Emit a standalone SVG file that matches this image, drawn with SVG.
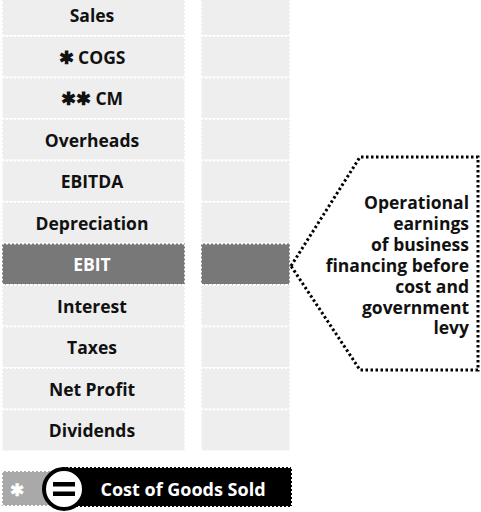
<svg xmlns="http://www.w3.org/2000/svg" width="481" height="512" viewBox="0 0 481 512">
  <style>
    .cell { fill: #eeeeee; stroke: #ffffff; stroke-width: 2; stroke-dasharray: 2 2; }
    .cell.hi { fill: #787878; }
    .lbl { font-family: "Open Sans", "Liberation Sans", sans-serif; font-weight: 700; font-size: 17.5px; fill: #111111; text-anchor: middle; }
    .lbl.hi { fill: #ffffff; }
    .note { font-family: "Open Sans", "Liberation Sans", sans-serif; font-weight: 700; font-size: 17.5px; fill: #111111; text-anchor: end; }
    .callout { fill: #ffffff; stroke: #000000; stroke-width: 3; stroke-dasharray: 2.5 2.5; }
  </style>

  <rect width="481" height="512" fill="#ffffff"/>

  <!-- income statement rows: label column + value column -->
  <g id="row-sales">
    <rect class="cell" x="2" y="-2" width="183" height="38"/>
    <rect class="cell" x="201" y="-2" width="89" height="38"/>
    <text class="lbl" x="92" y="22">Sales</text>
  </g>
  <g id="row-cogs">
    <rect class="cell" x="2" y="36" width="183" height="41.5"/>
    <rect class="cell" x="201" y="36" width="89" height="41.5"/>
    <text class="lbl" x="92" y="63.5">✱ COGS</text>
  </g>
  <g id="row-cm">
    <rect class="cell" x="2" y="77.5" width="183" height="41.5"/>
    <rect class="cell" x="201" y="77.5" width="89" height="41.5"/>
    <text class="lbl" x="92" y="105">✱✱ CM</text>
  </g>
  <g id="row-overheads">
    <rect class="cell" x="2" y="119" width="183" height="41.5"/>
    <rect class="cell" x="201" y="119" width="89" height="41.5"/>
    <text class="lbl" x="92" y="146.5">Overheads</text>
  </g>
  <g id="row-ebitda">
    <rect class="cell" x="2" y="160.5" width="183" height="41.5"/>
    <rect class="cell" x="201" y="160.5" width="89" height="41.5"/>
    <text class="lbl" x="92" y="188">EBITDA</text>
  </g>
  <g id="row-depreciation">
    <rect class="cell" x="2" y="202" width="183" height="41.5"/>
    <rect class="cell" x="201" y="202" width="89" height="41.5"/>
    <text class="lbl" x="92" y="229.5">Depreciation</text>
  </g>
  <g id="row-ebit">
    <rect class="cell hi" x="2" y="243.5" width="183" height="41.5"/>
    <rect class="cell hi" x="201" y="243.5" width="89" height="41.5"/>
    <text class="lbl hi" x="92" y="271">EBIT</text>
  </g>
  <g id="row-interest">
    <rect class="cell" x="2" y="285" width="183" height="41.5"/>
    <rect class="cell" x="201" y="285" width="89" height="41.5"/>
    <text class="lbl" x="92" y="312.5">Interest</text>
  </g>
  <g id="row-taxes">
    <rect class="cell" x="2" y="326.5" width="183" height="41.5"/>
    <rect class="cell" x="201" y="326.5" width="89" height="41.5"/>
    <text class="lbl" x="92" y="354">Taxes</text>
  </g>
  <g id="row-net-profit">
    <rect class="cell" x="2" y="368" width="183" height="41.5"/>
    <rect class="cell" x="201" y="368" width="89" height="41.5"/>
    <text class="lbl" x="92" y="395.5">Net Profit</text>
  </g>
  <g id="row-dividends">
    <rect class="cell" x="2" y="409.5" width="183" height="41.5"/>
    <rect class="cell" x="201" y="409.5" width="89" height="41.5"/>
    <text class="lbl" x="92" y="437">Dividends</text>
  </g>

  <!-- callout pointing at the EBIT value cell -->
  <g id="callout-ebit">
    <path class="callout" d="M291,266 L360,157 L478,157 L478,370 L360,370 Z"/>
    <text class="note" x="469" y="209">Operational</text>
    <text class="note" x="469" y="230">earnings</text>
    <text class="note" x="469" y="251">of business</text>
    <text class="note" x="469" y="272">financing before</text>
    <text class="note" x="469" y="292.5">cost and</text>
    <text class="note" x="469" y="313.5">government</text>
    <text class="note" x="469" y="334">levy</text>
  </g>

  <!-- legend: * = Cost of Goods Sold -->
  <g id="legend">
    <rect x="2" y="471" width="60" height="35" fill="#a9a9a9" stroke="#ffffff" stroke-width="2" stroke-dasharray="2 2"/>
    <rect x="60" y="467" width="232" height="40" fill="#000000" stroke="#ffffff" stroke-width="2" stroke-dasharray="2 2"/>
    <text x="17" y="496" font-family="'Open Sans', 'Liberation Sans', sans-serif" font-weight="700" font-size="17" fill="#ffffff" text-anchor="middle">✱</text>
    <circle cx="64" cy="489" r="20" fill="#ffffff" stroke="#000000" stroke-width="4"/>
    <rect x="53" y="482" width="22" height="4.5" fill="#000000"/>
    <rect x="53" y="491.5" width="22" height="4.5" fill="#000000"/>
    <text x="183" y="496" font-family="'Open Sans', 'Liberation Sans', sans-serif" font-weight="700" font-size="18" fill="#ffffff" text-anchor="middle">Cost of Goods Sold</text>
  </g>
</svg>
